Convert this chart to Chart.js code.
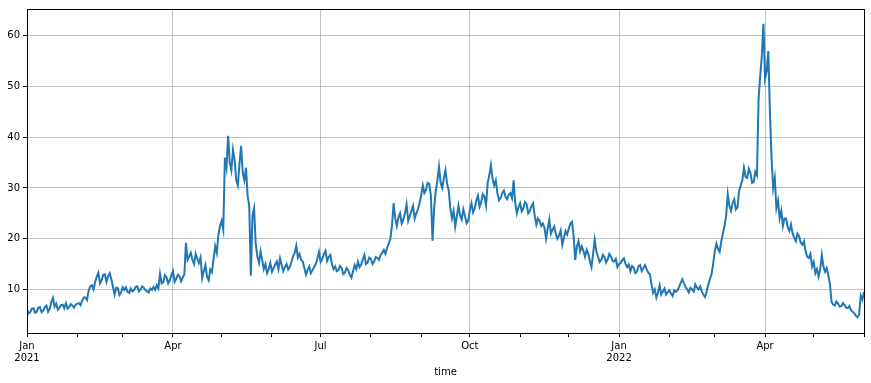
<!DOCTYPE html>
<html>
<head>
<meta charset="utf-8">
<script src="https://cdn.jsdelivr.net/npm/chart.js@4/dist/chart.umd.min.js"></script>
<style>
  html, body { margin: 0; padding: 0; background: #fff; }
  #wrap { width: 871px; height: 383px; }
</style>
</head>
<body>
<div id="wrap"><canvas id="chart" width="871" height="383"></canvas></div>
<script>
// day offsets counted from 2021-01-01
// values: readings on even days (0, 2, 4, ...)
const values = [
  6.0, 5.5, 6.3, 5.6, 6.5, 5.8, 6.8, 6.2, 8.3, 7.2,
  6.4, 7.0, 7.3, 6.5, 6.8, 7.0, 7.3, 7.8, 8.4, 9.8,
  10.8, 11.4, 13.3, 11.8, 13.0, 12.6, 12.0, 9.0, 10.2, 9.4,
  9.9, 9.5, 10.2, 9.9, 10.6, 10.0, 10.3, 9.6, 10.2, 10.5,
  10.8, 13.1, 11.4, 12.4, 11.8, 13.6, 12.1, 12.6, 12.3, 19.2,
  16.5, 15.8, 17.0, 15.2, 12.2, 14.8, 11.8, 13.4, 18.5, 20.8,
  23.5, 36.0, 40.3, 33.5, 35.5, 30.5, 38.3, 31.5, 28.5, 12.7,
  26.0, 16.5, 17.5, 14.0, 13.2, 15.2, 14.2, 15.5, 16.1, 13.6,
  15.0, 14.4, 16.5, 18.6, 17.0, 15.5, 12.9, 14.5, 13.8, 15.0,
  17.4, 16.0, 17.6, 16.4, 15.0, 14.5, 13.8, 14.2, 13.3, 13.8,
  12.3, 14.8, 15.5, 14.9, 16.8, 15.3, 16.0, 15.5, 16.2, 16.8,
  17.8, 18.2, 20.0, 27.0, 22.5, 25.0, 23.8, 26.8, 24.5, 26.5,
  25.0, 27.0, 30.5, 29.6, 30.8, 19.6, 29.5, 34.2, 30.0, 33.5,
  29.5, 24.0, 22.4, 26.5, 23.8, 24.5, 23.5, 27.0, 26.0, 28.5,
  27.2, 28.3, 31.0, 34.5, 30.5, 29.0, 28.0, 29.5, 27.8, 29.0,
  31.5, 25.0, 27.0, 26.0, 26.8, 25.5, 27.0, 22.8, 23.5, 23.0,
  20.0, 23.8, 21.8, 21.0, 20.6, 18.8, 21.5, 22.0, 23.3, 15.8,
  19.5, 18.5, 16.4, 17.0, 14.4, 19.8, 16.5, 15.8, 16.4, 15.9,
  16.5, 15.5, 14.4, 15.2, 16.1, 14.4, 13.6, 14.3, 13.5, 14.8,
  14.2, 14.0, 13.0, 9.3, 8.4, 10.8, 9.6, 9.0, 9.8, 8.7,
  9.5, 10.5, 12.0, 10.5, 9.4, 10.0, 11.0, 10.0, 9.6, 8.5,
  11.0, 13.0, 17.5, 18.0, 19.5, 22.5, 28.8, 25.5, 27.8, 26.2,
  30.5, 34.0, 32.0, 33.0, 31.2, 32.5, 52.0, 62.4, 53.0, 45.0,
  30.0, 26.0, 24.0, 22.5, 24.0, 21.5, 21.0, 19.5, 20.5, 18.8,
  17.5, 16.2, 14.5, 13.2, 12.5, 16.8, 13.5, 12.8, 7.5, 6.8,
  7.2, 6.7, 6.9, 6.3, 5.9, 5.3, 4.5, 8.8, 9.5
];

// midValues: readings on odd days (1, 3, 5, ...)
const midValues = [
  5.3, 6.2, 5.4, 6.4, 5.5, 6.5, 5.6, 7.5, 6.6, 6.0,
  6.9, 6.3, 6.2, 7.1, 6.4, 7.2, 6.9, 8.4, 7.9, 10.6,
  10.0, 12.5, 11.2, 12.9, 11.5, 13.2, 10.5, 10.3, 8.9, 10.4,
  10.4, 9.3, 9.6, 10.5, 9.6, 10.6, 9.9, 9.4, 9.9, 9.9,
  10.2, 11.2, 12.8, 11.2, 12.8, 11.5, 12.9, 11.6, 13.0, 15.8,
  17.2, 15.0, 16.0, 16.3, 13.6, 12.5, 13.9, 16.0, 17.2, 22.5,
  21.8, 34.0, 35.0, 37.5, 31.5, 34.8, 33.0, 34.0, 26.5, 24.5,
  19.0, 15.2, 15.8, 15.0, 14.0, 13.5, 14.9, 14.0, 14.8, 14.4,
  13.9, 15.4, 17.2, 16.3, 15.8, 14.2, 13.9, 13.2, 14.4, 16.0,
  15.4, 16.9, 15.6, 16.8, 14.0, 13.6, 14.6, 13.0, 14.2, 12.9,
  13.6, 14.0, 14.4, 15.9, 15.0, 16.3, 15.0, 16.4, 15.8, 17.2,
  17.0, 19.0, 22.5, 24.0, 24.2, 23.0, 25.0, 23.5, 25.5, 24.0,
  25.8, 28.5, 29.0, 31.0, 28.5, 26.0, 31.5, 31.0, 32.0, 30.8,
  26.0, 25.5, 24.5, 24.6, 25.8, 23.0, 25.6, 25.2, 27.5, 26.3,
  28.8, 26.5, 32.5, 31.8, 31.5, 27.6, 29.0, 28.2, 28.7, 28.0,
  27.0, 26.2, 25.4, 27.2, 25.0, 26.4, 24.5, 24.0, 22.5, 22.2,
  22.0, 21.0, 22.4, 20.0, 21.6, 20.2, 20.8, 23.0, 20.5, 18.5,
  17.5, 17.6, 17.8, 15.6, 17.0, 17.5, 15.4, 16.8, 15.3, 17.0,
  15.6, 16.0, 15.0, 15.8, 15.0, 14.9, 14.6, 13.2, 14.6, 13.6,
  14.8, 13.3, 11.0, 10.0, 9.4, 9.0, 10.2, 9.4, 9.2, 9.8,
  9.8, 11.3, 11.2, 10.0, 10.3, 9.6, 10.4, 10.6, 9.0, 9.5,
  12.0, 15.0, 19.0, 17.4, 21.0, 24.5, 26.5, 27.0, 25.8, 29.5,
  31.5, 32.2, 33.8, 31.0, 33.2, 47.5, 56.0, 51.5, 57.0, 36.0,
  32.0, 27.5, 25.5, 24.0, 22.2, 22.8, 20.2, 21.0, 19.2, 19.5,
  16.4, 17.0, 15.4, 14.0, 14.0, 14.5, 14.2, 11.0, 7.0, 7.6,
  6.6, 7.3, 6.4, 6.7, 5.6, 4.8, 5.0, 8.0
];

// month starts (days from 2021-01-01) and the labelled ones
const monthDays = [0, 31, 59, 90, 120, 151, 181, 212, 243, 273, 304, 334, 365, 396, 424, 455, 485, 516];
const majorDays = [0, 90, 181, 273, 365, 455];
const majorLabels = [['Jan', '2021'], ['Apr'], ['Jul'], ['Oct'], ['Jan', '2022'], ['Apr']];
const yTicks = [10, 20, 30, 40, 50, 60];

// interleave even-day and odd-day readings
const points = [];
values.forEach((v, i) => {
    points.push({ x: i * 2, y: v });
    if (i < midValues.length) points.push({ x: i * 2 + 1, y: midValues[i] });
});

const font = { family: 'DejaVu Sans', size: 10 };
const gridColor = '#b0b0b0';

// matplotlib style frame round the plot
const framePlugin = {
    id: 'frame',
    afterDraw(chart) {
        const a = chart.chartArea;
        const ctx = chart.ctx;
        ctx.save();
        ctx.strokeStyle = '#000';
        ctx.lineWidth = 1;
        ctx.strokeRect(Math.round(a.left) + 0.5, Math.round(a.top) + 0.5,
            Math.round(a.right - a.left), Math.round(a.bottom - a.top));
        ctx.restore();
    }
};

new Chart(document.getElementById('chart'), {
    type: 'line',
    data: {
        datasets: [{
            data: points,
            borderColor: '#1f77b4',
            borderWidth: 2,
            pointRadius: 0,
            tension: 0,
            fill: false
        }]
    },
    options: {
        responsive: false,
        animation: false,
        events: [],
        layout: { autoPadding: false, padding: { left: 0, right: 7, top: 7, bottom: 0 } },
        plugins: { legend: { display: false }, tooltip: { enabled: false } },
        scales: {
            x: {
                type: 'linear',
                min: 0,
                max: 516,
                afterBuildTicks: scale => {
                    scale.ticks = monthDays.map(d => ({ value: d }));
                },
                afterFit: scale => { scale.height = 50; },
                ticks: {
                    autoSkip: false,
                    maxRotation: 0,
                    padding: 3,
                    color: '#000',
                    font: font,
                    callback: value => {
                        const k = majorDays.indexOf(value);
                        return k >= 0 ? majorLabels[k] : '';
                    }
                },
                grid: {
                    color: ctx => majorDays.includes(ctx.tick && ctx.tick.value) ? gridColor : 'rgba(0,0,0,0)',
                    lineWidth: 0.8,
                    tickColor: '#000',
                    tickLength: 4,
                    tickWidth: 1
                },
                border: { display: false },
                title: {
                    display: true,
                    text: 'time',
                    color: '#000',
                    font: font,
                    padding: { top: 0, bottom: 5 }
                }
            },
            y: {
                min: 1.4,
                max: 65.3,
                afterBuildTicks: scale => {
                    scale.ticks = yTicks.map(v => ({ value: v }));
                },
                afterFit: scale => { scale.width = 27; },
                ticks: { padding: 3, color: '#000', font: font },
                grid: {
                    color: gridColor,
                    lineWidth: 0.8,
                    tickColor: '#000',
                    tickLength: 4,
                    tickWidth: 1
                },
                border: { display: false }
            }
        }
    },
    plugins: [framePlugin]
});
</script>
</body>
</html>
